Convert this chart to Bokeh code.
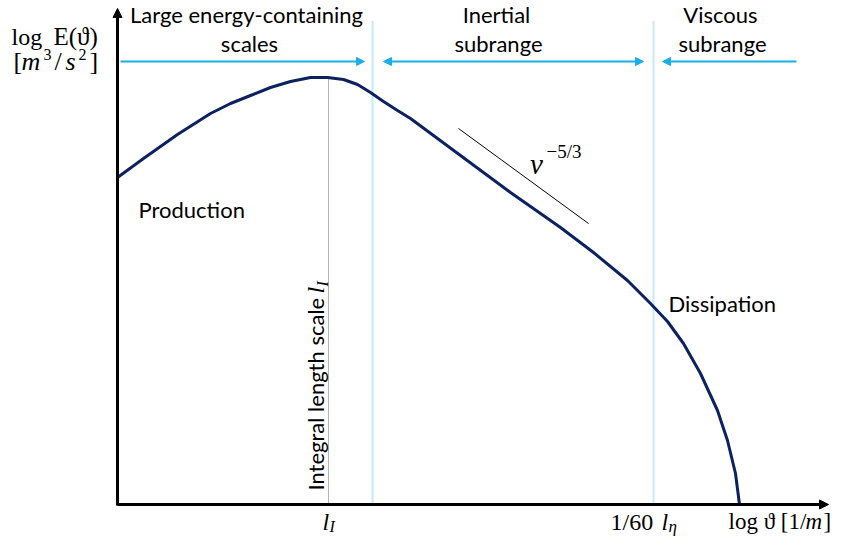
from bokeh.plotting import figure
from bokeh.models import Range1d, Arrow, NormalHead
from bokeh.core.properties import value
from bokeh.embed import file_html
from bokeh.resources import INLINE

# ---- data (schematic units: log wavenumber, log energy) ----
log_nu = [0, 26, 60, 93, 113, 133, 153, 173, 193, 210, 226, 240, 253, 266, 280, 293,
          343, 393, 443, 476, 510, 533, 550, 566, 583, 600, 610, 618, 622]
log_E = [327, 346, 370, 391, 401, 409, 417, 423, 427, 427, 425, 420, 412, 403, 394, 386,
         349, 312, 277, 252, 224, 201, 183, 161, 131, 94, 64, 31, 0]

slope_nu = [341, 471]          # -5/3 reference segment
slope_E = [376, 281]

l_I = 211                      # integral length scale position
inertial_start = 255           # end of energy-containing range
inertial_end = 536             # start of viscous range (1/60 l_eta)
nu_max = 711                   # end of the x axis
E_max = 496                    # end of the y axis

region_titles = [["Large energy-containing", "scales"],
                 ["Inertial", "subrange"],
                 ["Viscous", "subrange"]]

SANS = value("Lato")
SERIF = value("Liberation Serif")

p = figure(width=831, height=536, x_range=Range1d(-117, 714), y_range=Range1d(-32, 504),
           output_backend="svg", toolbar_location=None, min_border=0,
           x_axis_location=None, y_axis_location=None)
p.grid.visible = False
p.outline_line_color = None
p.background_fill_color = "white"
p.border_fill_color = "white"

# boundaries (light-blue dotted) and integral length scale (grey dotted)
for b in (inertial_start, inertial_end):
    p.line([b, b], [0, 484], line_color="#8fd2f2", line_width=2, line_dash="1 1")
p.line([l_I, l_I], [0, max(log_E)], line_color="#6b6b6b", line_width=1, line_dash="1 1")

# spectrum
p.line(log_nu, log_E, line_color="#0b2160", line_width=3)
# -5/3 slope
p.line(slope_nu, slope_E, line_color="black", line_width=1)

# axes with arrow heads
p.add_layout(Arrow(x_start=0, y_start=-1, x_end=0, y_end=E_max, line_color="black", line_width=3,
                   end=NormalHead(size=9, fill_color="black", line_color="black", line_width=1)))
p.add_layout(Arrow(x_start=0, y_start=0, x_end=nu_max, y_end=0, line_color="black", line_width=3,
                   end=NormalHead(size=9, fill_color="black", line_color="black", line_width=1)))

# range arrows
ay = 443
blue = "#19aee8"
def head():
    return NormalHead(size=8, fill_color=blue, line_color=blue, line_width=1)
p.add_layout(Arrow(x_start=3, y_start=ay, x_end=inertial_start - 8, y_end=ay,
                   line_color=blue, line_width=2, end=head()))
p.add_layout(Arrow(x_start=inertial_start + 11, y_start=ay, x_end=inertial_end - 10, y_end=ay,
                   line_color=blue, line_width=2, start=head(), end=head()))
p.add_layout(Arrow(x_start=679, y_start=ay, x_end=inertial_end + 9, y_end=ay,
                   line_color=blue, line_width=2, end=head()))

def txt(x, y, s, font=SANS, size="22px", align="center", style="normal", angle=0, color="black"):
    p.text([x], [y], text=[s], text_font=font, text_font_size=size, text_align=align,
           text_baseline="middle", text_font_style=style, angle=angle, text_color=color)

# region titles
centers = [(129, 132), (379, 381), (603, 605)]
for (c1, c2), (t1, t2) in zip(centers, region_titles):
    txt(c1, 490, t1)
    txt(c2, 461, t2)

txt(21, 295, "Production", align="left")
txt(551, 201, "Dissipation", align="left")

# rotated integral length scale label
txt(198, 14, "Integral length scale", align="left", angle=1.5708)
txt(198, 211, "l", font=SERIF, size="24px", align="left", style="italic", angle=1.5708)
txt(205, 218, "I", font=SERIF, size="16px", align="left", style="italic", angle=1.5708)

# slope label
txt(419, 341, "v", font=SERIF, size="29px", style="italic")
txt(429, 353, "\u22125/3", font=SERIF, size="19px", align="left")

# y-axis label
txt(-106, 468, "log", font=SERIF, size="24px", align="left")
txt(-64, 468, "E(\u03d1)", font=SERIF, size="25px", align="left")
txt(-104, 443, "[", font=SERIF, size="26px", align="left")
txt(-96, 443, "m", font=SERIF, size="26px", align="left", style="italic")
txt(-74, 450, "3", font=SERIF, size="16px", align="left")
txt(-63, 443, "/", font=SERIF, size="26px", align="left")
txt(-52, 443, "s", font=SERIF, size="26px", align="left", style="italic")
txt(-39, 450, "2", font=SERIF, size="16px", align="left")
txt(-28, 443, "]", font=SERIF, size="26px", align="left")

# x-axis tick labels
ty = -17
txt(l_I - 6, ty, "l", font=SERIF, size="24px", align="left", style="italic")
txt(l_I + 1, ty - 5, "I", font=SERIF, size="16px", align="left", style="italic")
txt(inertial_end - 43, ty, "1/60", font=SERIF, size="24px", align="left")
txt(inertial_end + 8, ty, "l", font=SERIF, size="24px", align="left", style="italic")
txt(inertial_end + 15, ty - 5, "\u03b7", font=SERIF, size="17px", align="left", style="italic")
txt(nu_max - 100, ty, "log \u03d1 [1/", font=SERIF, size="23px", align="left")
txt(nu_max - 100 + 77, ty, "m", font=SERIF, size="23px", align="left", style="italic")
txt(nu_max - 100 + 95, ty, "]", font=SERIF, size="23px", align="left")

open("out.html", "w").write(file_html(p, INLINE))
